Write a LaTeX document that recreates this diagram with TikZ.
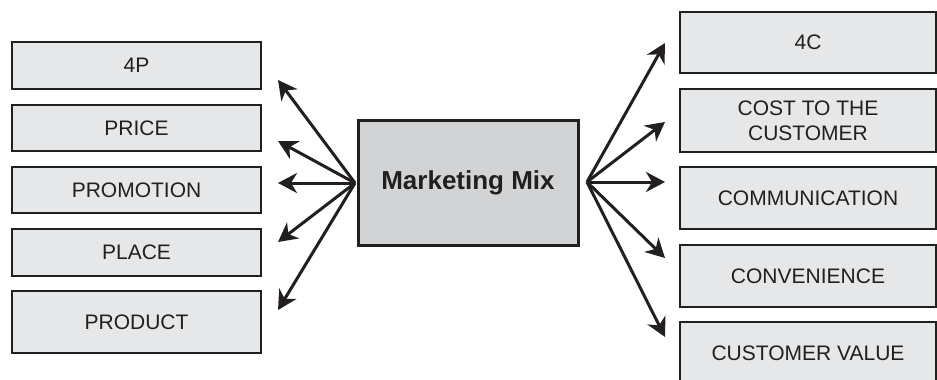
\documentclass[tikz,border=0pt]{standalone}
\usepackage{fontspec}
\setmainfont{Liberation Sans}
\usetikzlibrary{arrows.meta}
\definecolor{sidefill}{HTML}{E6E7E8}
\definecolor{midfill}{HTML}{D1D3D4}
\definecolor{ink}{HTML}{231F20}
\begin{document}
\begin{tikzpicture}[x=1pt,y=-1pt,
  sidebox/.style={draw=ink, line width=1.3pt, fill=sidefill, inner sep=0pt,
    align=center, text=ink, font=\fontsize{21}{25}\selectfont},
  lbox/.style={sidebox, minimum width=249pt},
  rbox/.style={sidebox, minimum width=256pt},
  midbox/.style={draw=ink, line width=3pt, fill=midfill, minimum width=220pt,
    minimum height=125pt, text=ink, font=\fontsize{26}{30}\selectfont\bfseries},
  arr/.style={draw=ink, line width=3pt, -{Stealth[length=19pt,width=20pt,inset=6pt]}}]
\useasboundingbox (0,0) rectangle (937,380);
\clip (0,0) rectangle (937,380);
\fill[white] (0,0) rectangle (937,380);
% left boxes
\node[lbox, minimum height=47pt] (p4) at (136.5,65.5) {4P};
\node[lbox, minimum height=46pt] (price) at (136.5,128) {PRICE};
\node[lbox, minimum height=46pt] (promo) at (136.5,190) {PROMOTION};
\node[lbox, minimum height=47pt] (place) at (136.5,252.5) {PLACE};
\node[lbox, minimum height=62pt] (product) at (136.5,322) {PRODUCT};
% right boxes
\node[rbox, minimum height=61pt] (c4) at (808,42.5) {4C};
\node[rbox, minimum height=63pt] (cost) at (808,120.5) {COST TO THE\\CUSTOMER};
\node[rbox, minimum height=62pt] (comm) at (808,198) {COMMUNICATION};
\node[rbox, minimum height=62pt] (conv) at (808,276) {CONVENIENCE};
\node[rbox, minimum height=62pt] (cv) at (808,353) {CUSTOMER VALUE};
% center
\node[midbox] (mm) at (468,182.5) {Marketing Mix};
% arrow origins and tips
\coordinate (lo) at (355,183);
\coordinate (ro) at (587,182);
\coordinate (t4p) at (278,80);
\coordinate (tprice) at (278,141);
\coordinate (tpromo) at (278,183);
\coordinate (tplace) at (278,242);
\coordinate (tproduct) at (278,310);
\coordinate (t4c) at (665,43);
\coordinate (tcost) at (665,122);
\coordinate (tcomm) at (665,182);
\coordinate (tconv) at (665,258);
\coordinate (tcv) at (665,337);
\foreach \t in {t4p,tprice,tpromo,tplace,tproduct}{\draw[arr] (lo) -- (\t);}
\foreach \t in {t4c,tcost,tcomm,tconv,tcv}{\draw[arr] (ro) -- (\t);}
\end{tikzpicture}
\end{document}
